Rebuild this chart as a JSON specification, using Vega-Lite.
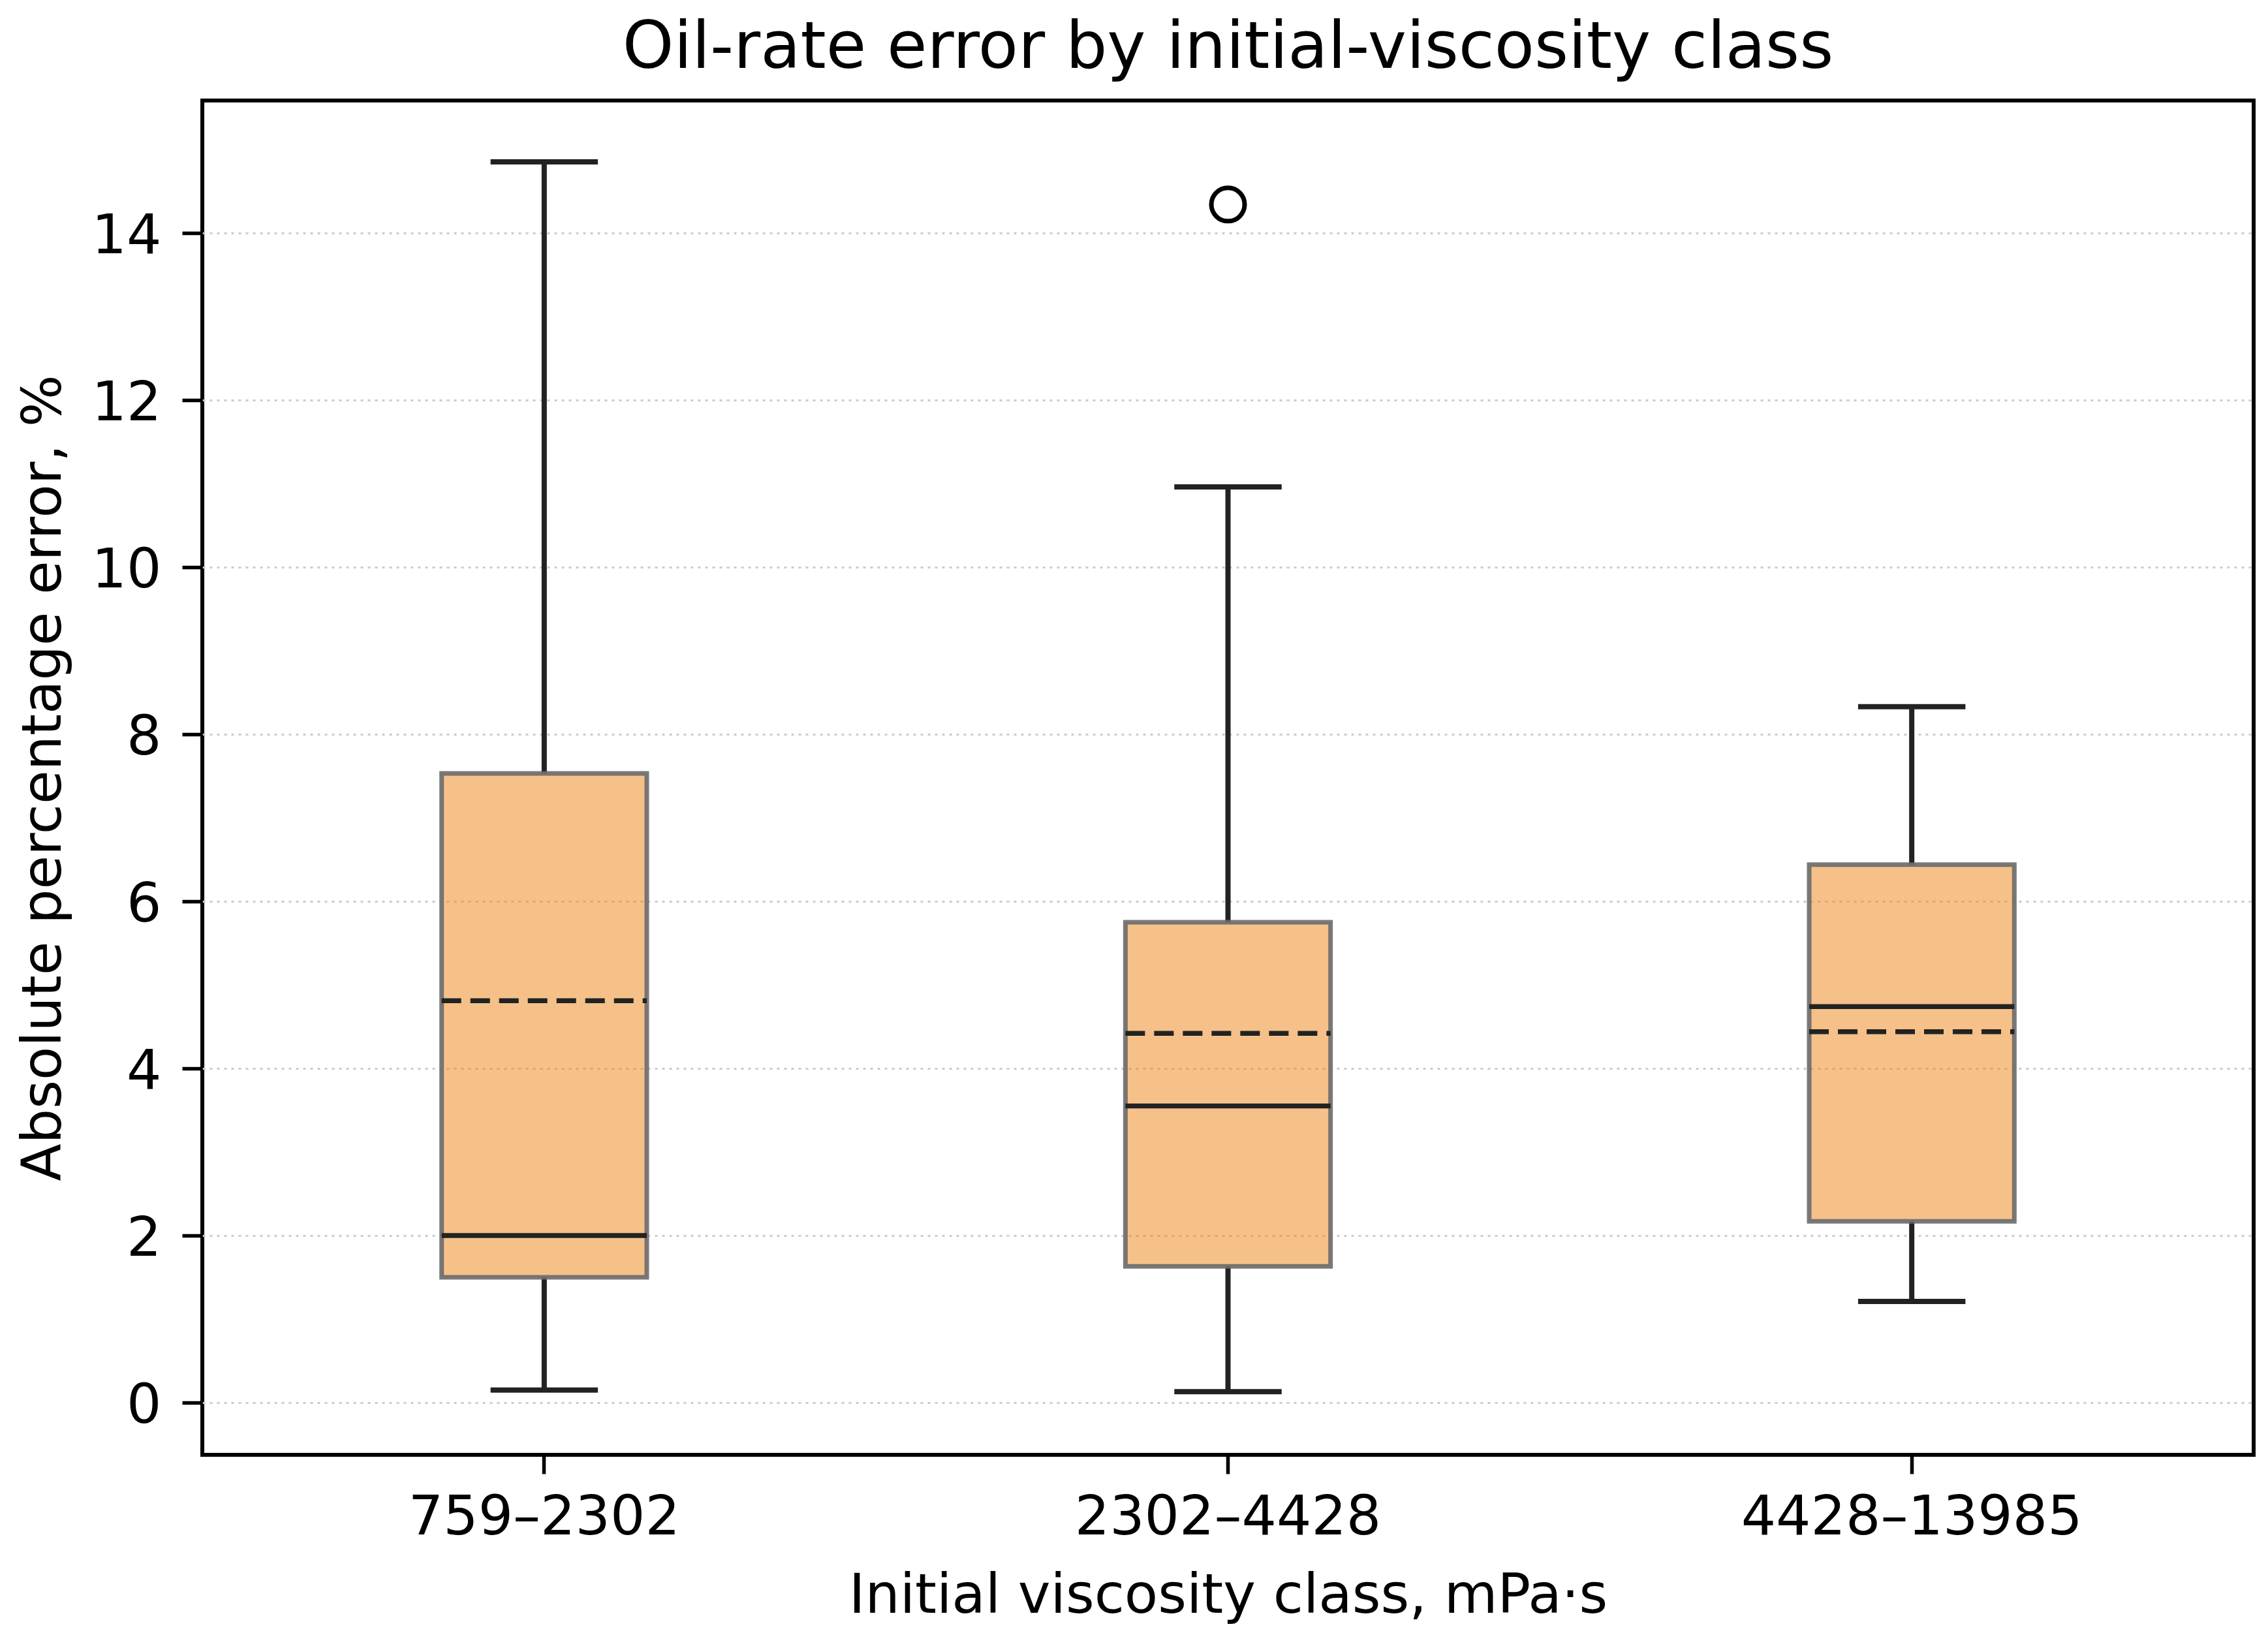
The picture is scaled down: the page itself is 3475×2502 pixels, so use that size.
{
  "$schema": "https://vega.github.io/schema/vega-lite/v6.json",
  "width": 3143,
  "height": 2075,
  "autosize": {"type": "none"},
  "padding": {"left": 310, "top": 154, "right": 22, "bottom": 273},
  "background": "white",
  "title": {
    "text": "Oil-rate error by initial-viscosity class",
    "font": "DejaVu Sans",
    "fontSize": 100,
    "fontWeight": "normal",
    "color": "black",
    "anchor": "middle",
    "baseline": "alphabetic",
    "offset": -50
  },
  "config": {
    "font": "DejaVu Sans",
    "view": {"stroke": "black", "strokeWidth": 6},
    "axis": {
      "domain": false,
      "labelFont": "DejaVu Sans",
      "labelFontSize": 84,
      "labelColor": "black",
      "labelLimit": 2000,
      "titleFont": "DejaVu Sans",
      "titleFontSize": 84,
      "titleFontWeight": "normal",
      "titleColor": "black",
      "tickColor": "black",
      "tickWidth": 5.5
    },
    "axisX": {
      "grid": false,
      "tickSize": 29,
      "labelPadding": 26,
      "labelAngle": 0,
      "titleY": 241,
      "titleBaseline": "alphabetic"
    },
    "axisY": {
      "grid": true,
      "gridColor": "#cccccc",
      "gridWidth": 3,
      "gridDash": [4, 7],
      "tickCount": 8,
      "tickSize": 31,
      "labelPadding": 32,
      "labelBaseline": "alphabetic",
      "labelOffset": 31,
      "titleX": -218,
      "titleBaseline": "alphabetic"
    }
  },
  "data": {
    "values": [
      {"cls": "759–2302", "lo": 0.15, "q1": 1.50, "med": 2.00, "mean": 4.81, "q3": 7.53, "hi": 14.85},
      {"cls": "2302–4428", "lo": 0.13, "q1": 1.63, "med": 3.55, "mean": 4.42, "q3": 5.75, "hi": 10.96},
      {"cls": "4428–13985", "lo": 1.21, "q1": 2.17, "med": 4.74, "mean": 4.44, "q3": 6.44, "hi": 8.33}
    ]
  },
  "layer": [
    {
      "mark": {"type": "rule", "color": "#222222", "strokeWidth": 8},
      "encoding": {
        "x": {"field": "cls", "type": "nominal", "title": "Initial viscosity class, mPa·s", "sort": ["759–2302", "2302–4428", "4428–13985"], "scale": {"type": "band", "paddingInner": 0, "paddingOuter": 0, "domain": ["759–2302", "2302–4428", "4428–13985"]}},
        "y": {"field": "lo", "type": "quantitative", "title": "Absolute percentage error, %", "scale": {"domain": [-0.625, 15.585], "nice": false, "zero": false}},
        "y2": {"field": "q1"}
      }
    },
    {
      "mark": {"type": "rule", "color": "#222222", "strokeWidth": 8},
      "encoding": {
        "x": {"field": "cls", "type": "nominal", "title": "Initial viscosity class, mPa·s", "sort": ["759–2302", "2302–4428", "4428–13985"], "scale": {"type": "band", "paddingInner": 0, "paddingOuter": 0, "domain": ["759–2302", "2302–4428", "4428–13985"]}},
        "y": {"field": "q3", "type": "quantitative", "title": "Absolute percentage error, %", "scale": {"domain": [-0.625, 15.585], "nice": false, "zero": false}},
        "y2": {"field": "hi"}
      }
    },
    {
      "mark": {"type": "bar", "width": {"band": 0.3}, "fill": "#eb8313", "fillOpacity": 0.5, "stroke": "#6a6a6a", "strokeOpacity": 0.9, "strokeWidth": 7},
      "encoding": {
        "x": {"field": "cls", "type": "nominal", "title": "Initial viscosity class, mPa·s", "sort": ["759–2302", "2302–4428", "4428–13985"], "scale": {"type": "band", "paddingInner": 0, "paddingOuter": 0, "domain": ["759–2302", "2302–4428", "4428–13985"]}},
        "y": {"field": "q1", "type": "quantitative", "title": "Absolute percentage error, %", "scale": {"domain": [-0.625, 15.585], "nice": false, "zero": false}},
        "y2": {"field": "q3"}
      }
    },
    {
      "mark": {"type": "rule", "color": "#222222", "strokeWidth": 8},
      "encoding": {
        "x": {"field": "cls", "type": "nominal", "bandPosition": 0.4215, "title": "Initial viscosity class, mPa·s", "sort": ["759–2302", "2302–4428", "4428–13985"], "scale": {"type": "band", "paddingInner": 0, "paddingOuter": 0, "domain": ["759–2302", "2302–4428", "4428–13985"]}},
        "x2": {"field": "cls", "bandPosition": 0.5785},
        "y": {"field": "lo", "type": "quantitative", "title": "Absolute percentage error, %", "scale": {"domain": [-0.625, 15.585], "nice": false, "zero": false}}
      }
    },
    {
      "mark": {"type": "rule", "color": "#222222", "strokeWidth": 8},
      "encoding": {
        "x": {"field": "cls", "type": "nominal", "bandPosition": 0.4215, "title": "Initial viscosity class, mPa·s", "sort": ["759–2302", "2302–4428", "4428–13985"], "scale": {"type": "band", "paddingInner": 0, "paddingOuter": 0, "domain": ["759–2302", "2302–4428", "4428–13985"]}},
        "x2": {"field": "cls", "bandPosition": 0.5785},
        "y": {"field": "hi", "type": "quantitative", "title": "Absolute percentage error, %", "scale": {"domain": [-0.625, 15.585], "nice": false, "zero": false}}
      }
    },
    {
      "mark": {"type": "rule", "color": "#222222", "strokeWidth": 7.5},
      "encoding": {
        "x": {"field": "cls", "type": "nominal", "bandPosition": 0.35, "title": "Initial viscosity class, mPa·s", "sort": ["759–2302", "2302–4428", "4428–13985"], "scale": {"type": "band", "paddingInner": 0, "paddingOuter": 0, "domain": ["759–2302", "2302–4428", "4428–13985"]}},
        "x2": {"field": "cls", "bandPosition": 0.65},
        "y": {"field": "med", "type": "quantitative", "title": "Absolute percentage error, %", "scale": {"domain": [-0.625, 15.585], "nice": false, "zero": false}}
      }
    },
    {
      "mark": {"type": "rule", "color": "#222222", "strokeWidth": 7.5, "strokeDash": [30, 14]},
      "encoding": {
        "x": {"field": "cls", "type": "nominal", "bandPosition": 0.35, "title": "Initial viscosity class, mPa·s", "sort": ["759–2302", "2302–4428", "4428–13985"], "scale": {"type": "band", "paddingInner": 0, "paddingOuter": 0, "domain": ["759–2302", "2302–4428", "4428–13985"]}},
        "x2": {"field": "cls", "bandPosition": 0.65},
        "y": {"field": "mean", "type": "quantitative", "title": "Absolute percentage error, %", "scale": {"domain": [-0.625, 15.585], "nice": false, "zero": false}}
      }
    },
    {
      "data": {"values": [{"cls": "2302–4428", "value": 14.34}]},
      "mark": {"type": "point", "shape": "circle", "filled": false, "stroke": "black", "strokeWidth": 7, "size": 2601, "opacity": 1},
      "encoding": {
        "x": {"field": "cls", "type": "nominal", "title": "Initial viscosity class, mPa·s", "sort": ["759–2302", "2302–4428", "4428–13985"], "scale": {"type": "band", "paddingInner": 0, "paddingOuter": 0, "domain": ["759–2302", "2302–4428", "4428–13985"]}},
        "y": {"field": "value", "type": "quantitative", "title": "Absolute percentage error, %", "scale": {"domain": [-0.625, 15.585], "nice": false, "zero": false}}
      }
    }
  ]
}
